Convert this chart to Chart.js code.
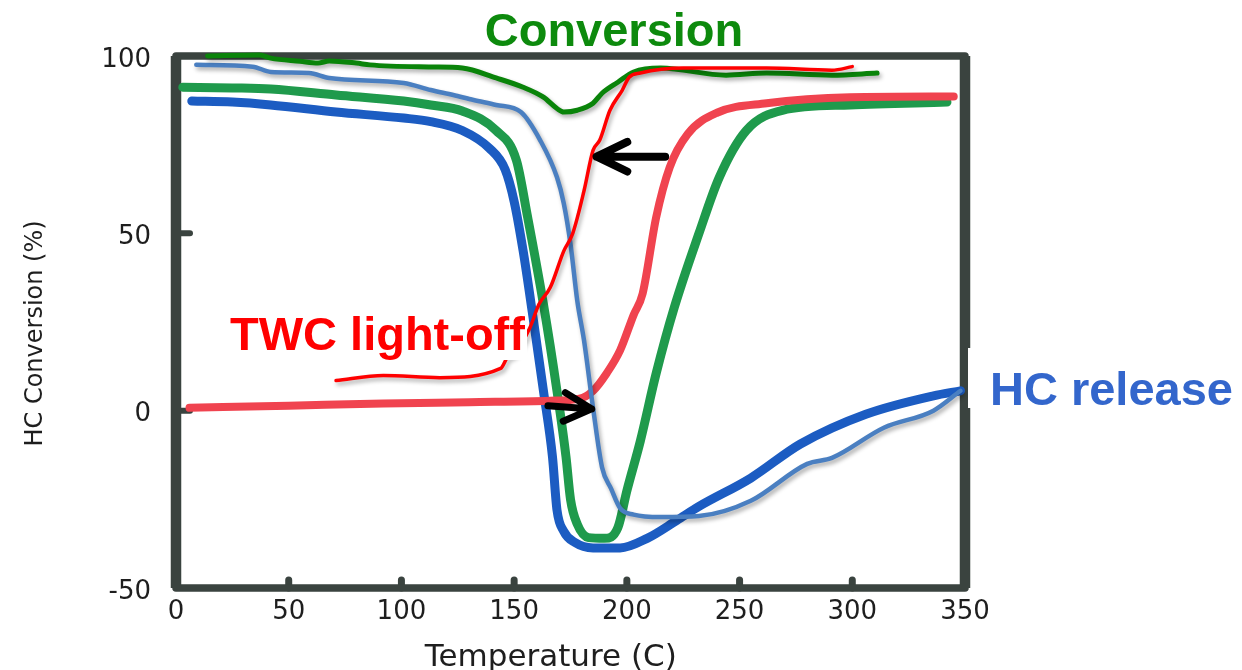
<!DOCTYPE html>
<html>
<head>
<meta charset="utf-8">
<title>HC Conversion vs Temperature</title>
<script src="https://cdn.jsdelivr.net/npm/chart.js@4.4.1/dist/chart.umd.min.js"></script>
<style>
  html, body { margin: 0; padding: 0; background: #ffffff; }
  #wrap { width: 1242px; height: 670px; }
</style>
</head>
<body>
<div id="wrap"><canvas id="chart" width="1242" height="670"></canvas></div>
<script>
// Axis ticks
const tempTicks = [0, 50, 100, 150, 200, 250, 300, 350];
const convTicks = [-50, 0, 50, 100];

// HC trap, dark blue trace (temperature C, conversion %)
const blueTemps  = [7, 25, 42, 71, 101, 113, 127, 139, 146, 150, 154, 158, 163, 167, 169, 172, 177, 185, 197, 209, 222, 232, 255, 277, 306, 336, 348];
const blueValues = [87.3, 87, 86.2, 84.2, 82.5, 81.5, 79, 74, 68, 59, 45, 28, 5.6, -13, -28, -34, -37.2, -38.7, -38.7, -36, -31, -27, -19, -9.4, -1, 4.2, 5.6];

// HC trap, green trace
const greenTemps  = [3, 25, 42, 71, 101, 113, 127, 142, 151, 156, 163, 169, 173, 175, 178, 183, 190, 196, 200, 206, 213, 221, 232, 241, 253, 269, 299, 342];
const greenValues = [91.2, 91, 90.7, 89, 87.3, 86.2, 84.5, 79, 70.6, 54.5, 30, 5.6, -13, -25, -32, -35.8, -36, -33, -22.6, -8.5, 10.5, 29, 50, 65.8, 79, 84.7, 86.2, 87];

// TWC only, red trace
const redTemps  = [6, 50, 92, 130, 166, 179, 185, 191, 197, 203, 207, 213, 219, 227, 240, 262, 299, 345];
const redValues = [0.8, 1.4, 2, 2.4, 2.8, 3.4, 5.6, 10.5, 17, 27, 33, 54.5, 68.6, 78, 84, 86.7, 88.4, 88.6];

// HC release, hand-drawn light blue trace
const releaseTemps  = [9, 34, 42, 59, 68, 101, 113, 123, 132, 142, 153, 161.5, 169, 172, 175, 178, 181, 185, 189, 193, 197, 203, 215, 232, 255, 280, 291, 314, 336, 348];
const releaseValues = [97.5, 97, 95.5, 95.2, 93.8, 92.4, 90.4, 89, 87.6, 86.2, 84.2, 76.3, 65.8, 58.5, 47, 31, 19.8, 0.8, -16, -22, -27.5, -29.3, -30, -29.7, -25.4, -15, -13.3, -4.8, 0, 5.6];

// Overall conversion, hand-drawn dark green trace
const conversionTemps  = [14, 37, 42, 55, 63, 68, 80, 86, 113, 127, 142, 154, 163, 169, 172, 178, 185, 189, 196, 203, 215, 244, 262, 291, 311];
const conversionValues = [100, 100.3, 99.4, 98.5, 98, 98.6, 98, 97.5, 96.9, 96.6, 93.8, 91.2, 88.4, 85.2, 84.2, 84.7, 86.7, 89.5, 92.6, 95.5, 96.6, 94.6, 95.2, 94.6, 95.2];

// TWC light-off, hand-drawn red trace
const lightoffTemps  = [71, 92, 117, 144, 147, 150, 157, 161, 166, 172, 176, 181, 185, 188, 192.5, 198, 201, 206, 225, 262, 291, 300];
const lightoffValues = [8.5, 9.9, 9.3, 11.9, 15, 16, 23.4, 30, 34.7, 45, 50, 62, 73.4, 76.3, 84.7, 90.4, 94, 95.2, 96.6, 96.6, 96, 97];

// Arrow annotations: [temperature, conversion] start and end
const arrowShiftFrom = [217, 71.6];
const arrowShiftTo   = [186.6, 71.6];
const arrowReleaseFrom = [165, 1.4];
const arrowReleaseTo   = [184.4, 0.5];

const zip = (xs, ys) => xs.map((x, i) => ({ x: x, y: ys[i] }));

const frameColor = '#3a433f';

// Thick box frame with inward tick bumps, drawn under the traces
const framePlugin = {
  id: 'frame',
  beforeDatasetsDraw(chart) {
    const { ctx, chartArea: a, scales: { x, y } } = chart;
    ctx.save();
    ctx.strokeStyle = frameColor;
    ctx.lineCap = 'round';
    ctx.lineJoin = 'round';
    ctx.lineWidth = 7;
    tempTicks.forEach(t => {
      if (t <= x.min || t >= x.max) return;
      const px = x.getPixelForValue(t);
      ctx.beginPath();
      ctx.moveTo(px, a.bottom);
      ctx.lineTo(px, a.bottom - 8);
      ctx.stroke();
    });
    ctx.lineWidth = 6;
    convTicks.forEach(v => {
      if (v <= y.min || v >= y.max) return;
      const py = y.getPixelForValue(v);
      ctx.beginPath();
      ctx.moveTo(a.left, py);
      ctx.lineTo(a.left + 14, py);
      ctx.stroke();
    });
    ctx.lineWidth = 7.5;
    ctx.strokeRect(a.left, a.top, a.right - a.left, a.bottom - a.top);
    ctx.lineWidth = 10.5;
    ctx.lineCap = 'butt';
    ctx.beginPath();
    ctx.moveTo(a.left, a.top); ctx.lineTo(a.left, a.bottom);
    ctx.moveTo(a.right, a.top); ctx.lineTo(a.right, a.bottom);
    ctx.stroke();
    ctx.restore();
  }
};

// Soft drop shadow under the hand-drawn traces
const inkShadowPlugin = {
  id: 'inkShadow',
  beforeDatasetDraw(chart, args) {
    const ds = chart.data.datasets[args.index];
    if (!ds.inkShadow) return;
    const ctx = chart.ctx;
    ctx.save();
    ctx.shadowColor = 'rgba(0,0,0,0.32)';
    ctx.shadowBlur = 4;
    ctx.shadowOffsetX = 2;
    ctx.shadowOffsetY = 3;
  },
  afterDatasetDraw(chart, args) {
    const ds = chart.data.datasets[args.index];
    if (!ds.inkShadow) return;
    chart.ctx.restore();
  }
};

function drawArrow(ctx, x0, y0, x1, y1, head, spread) {
  const ang = Math.atan2(y1 - y0, x1 - x0);
  ctx.beginPath();
  ctx.moveTo(x0, y0);
  ctx.lineTo(x1, y1);
  ctx.moveTo(x1 - head * Math.cos(ang - spread), y1 - head * Math.sin(ang - spread));
  ctx.lineTo(x1, y1);
  ctx.lineTo(x1 - head * Math.cos(ang + spread), y1 - head * Math.sin(ang + spread));
  ctx.stroke();
}

// Arrows and callout labels
const calloutPlugin = {
  id: 'callouts',
  afterDraw(chart) {
    const { ctx, scales: { x, y } } = chart;
    ctx.save();
    ctx.strokeStyle = '#000000';
    ctx.lineWidth = 8;
    ctx.lineCap = 'round';
    ctx.lineJoin = 'round';
    drawArrow(ctx,
      x.getPixelForValue(arrowShiftFrom[0]), y.getPixelForValue(arrowShiftFrom[1]),
      x.getPixelForValue(arrowShiftTo[0]), y.getPixelForValue(arrowShiftTo[1]), 34, 0.45);
    ctx.lineWidth = 7;
    drawArrow(ctx,
      x.getPixelForValue(arrowReleaseFrom[0]), y.getPixelForValue(arrowReleaseFrom[1]),
      x.getPixelForValue(arrowReleaseTo[0]), y.getPixelForValue(arrowReleaseTo[1]), 31, 0.48);

    ctx.font = 'bold 47px "Liberation Sans", Arial, sans-serif';
    ctx.textBaseline = 'alphabetic';

    ctx.fillStyle = '#ffffff';
    ctx.fillRect(968, 348, 274, 60);
    ctx.fillStyle = '#3366cc';
    ctx.textAlign = 'left';
    ctx.fillText('HC release', 990, 405);

    ctx.fillStyle = '#ffffff';
    ctx.fillRect(228, 314, 299, 46);
    ctx.fillStyle = '#ff0000';
    ctx.fillText('TWC light-off', 230, 350);

    ctx.fillStyle = '#0d8a0d';
    ctx.textAlign = 'center';
    ctx.fillText('Conversion', 614, 46);
    ctx.restore();
  }
};

const tickFont = { family: '"DejaVu Sans", Arial, sans-serif', size: 26 };
const tickColor = '#1e1e1e';

new Chart(document.getElementById('chart'), {
  type: 'line',
  data: {
    // listed top-most first: Chart.js paints index 0 last
    datasets: [
      { label: 'TWC light-off', data: zip(lightoffTemps, lightoffValues), borderColor: '#ff0000', borderWidth: 3.5, inkShadow: true },
      { label: 'Conversion', data: zip(conversionTemps, conversionValues), borderColor: '#0a840a', borderWidth: 5, inkShadow: true },
      { label: 'HC release', data: zip(releaseTemps, releaseValues), borderColor: '#4a7fc1', borderWidth: 4.5, inkShadow: true },
      { label: 'TWC', data: zip(redTemps, redValues), borderColor: '#f0434f', borderWidth: 8 },
      { label: 'HC trap A', data: zip(blueTemps, blueValues), borderColor: '#1c5cc2', borderWidth: 9 },
      { label: 'HC trap B', data: zip(greenTemps, greenValues), borderColor: '#1f9a4c', borderWidth: 9 }
    ].map(ds => Object.assign({
      fill: false,
      pointRadius: 0,
      pointHoverRadius: 0,
      cubicInterpolationMode: 'monotone',
      borderCapStyle: 'round',
      borderJoinStyle: 'round',
      clip: false
    }, ds))
  },
  options: {
    responsive: false,
    animation: false,
    events: [],
    layout: { padding: { top: 56, right: 277, left: 0, bottom: 0 } },
    plugins: {
      legend: { display: false },
      tooltip: { enabled: false }
    },
    scales: {
      x: {
        type: 'linear',
        min: 0,
        max: 350,
        afterFit(scale) { scale.height = 82; },
        afterBuildTicks(scale) { scale.ticks = tempTicks.map(v => ({ value: v })); },
        ticks: { font: tickFont, color: tickColor, padding: 9, maxRotation: 0 },
        grid: { display: false, drawTicks: false, tickLength: 0 },
        border: { display: false },
        title: {
          display: true,
          // trailing spaces nudge the centred title a little to the left
          text: 'Temperature (C)    ',
          color: tickColor,
          font: { family: '"DejaVu Sans", Arial, sans-serif', size: 31, lineHeight: 0.8 },
          padding: { top: 0, bottom: 0 }
        }
      },
      y: {
        type: 'linear',
        min: -50,
        max: 100,
        afterFit(scale) { scale.width = 176; },
        afterBuildTicks(scale) { scale.ticks = convTicks.map(v => ({ value: v })); },
        ticks: { font: tickFont, color: tickColor, padding: 25, labelOffset: 4 },
        grid: { display: false, drawTicks: false, tickLength: 0 },
        border: { display: false },
        title: {
          display: true,
          // trailing spaces nudge the rotated title slightly downward
          text: 'HC Conversion (%)   ',
          color: tickColor,
          font: { family: '"DejaVu Sans", Arial, sans-serif', size: 24, lineHeight: 1.2 },
          padding: { top: 21, bottom: 0 }
        }
      }
    }
  },
  plugins: [framePlugin, inkShadowPlugin, calloutPlugin]
});
</script>
</body>
</html>
